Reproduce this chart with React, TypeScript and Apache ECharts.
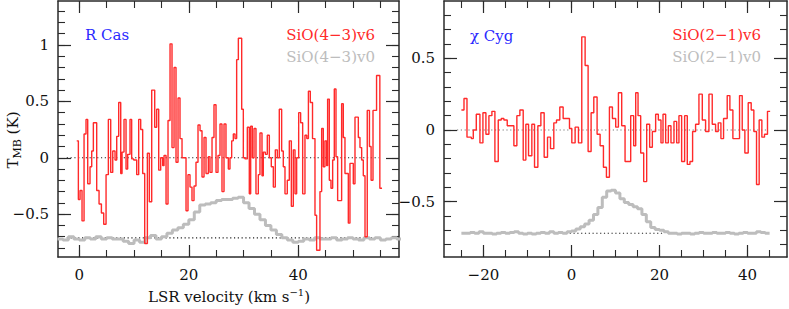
import React, { useEffect, useRef } from "react";
import * as echarts from "echarts";

// ---------------- R Cas: SiO(4-3) v=6 (channel left edges in km/s, T_MB in K)
const rcasV6Vel = [
  -0.48, -0.18, 0.13, 0.49, 0.86, 1.22, 1.53, 1.95, 2.26, 2.56, 3.17, 3.6, 4.03, 4.45, 4.88, 5.3, 5.73, 6.1, 6.52, 6.83,
  7.19, 7.56, 7.8, 8.16, 8.53, 8.83, 9.26, 9.56, 9.93, 10.48, 10.84, 11.21, 11.57, 11.94, 12.43, 12.79, 13.22, 13.77, 14.13, 14.5,
  14.86, 15.23, 15.47, 15.84, 16.2, 16.57, 16.93, 17.3, 17.66, 18.03, 18.39, 18.76, 19.49, 19.85, 20.22, 20.58, 20.95, 21.31, 21.68, 22.05,
  22.41, 22.78, 23.14, 23.57, 23.87, 24.24, 24.6, 24.97, 25.33, 25.7, 26.06, 26.43, 26.79, 27.22, 27.52, 27.83, 28.13, 28.44, 28.74, 29.05,
  29.66, 29.96, 30.26, 30.69, 31.05, 31.3, 31.6, 31.91, 32.27, 32.7, 33.0, 33.37, 33.61, 33.98, 34.34, 34.71, 35.07, 35.44, 35.8, 36.17,
  36.53, 36.96, 37.26, 37.57, 37.99, 38.36, 38.73, 39.09, 39.4, 39.7, 40.07, 40.43, 40.8, 41.22, 41.55, 41.85, 42.2, 42.6, 43.05, 43.35,
  43.96, 44.27, 44.57, 44.87, 45.18, 45.36, 45.67, 45.97, 46.28, 46.58, 46.89, 47.19, 47.92, 48.22, 48.53, 49.14, 49.44, 50.05, 50.36, 50.97,
  51.27, 51.58, 51.88, 52.19, 52.6, 53.0, 53.3, 53.65, 54.3, 54.9,
];
const rcasV6T = [
  0.15, -0.37, -0.29, -0.56, 0.21, 0.34, -0.23, -0.08, 0.06, 0.31, -0.29, -0.41, -0.49, -0.59, -0.15, 0.34, -0.13, 0.06, -0.02, 0.19,
  0.49, -0.14, 0.05, 0.34, -0.1, 0.03, 0.34, -0.01, -0.02, -0.15, 0.34, 0.25, -0.14, -0.76, 0.04, -0.39, 0.6, 0.27, 0.43, -0.11,
  0.0, -0.07, 0.02, -0.41, 0.33, 1.01, 0.09, 0.8, -0.04, 0.53, 0.17, 0.0, -0.47, -0.15, -0.26, -0.38, -0.25, -0.04, 0.29, 0.24,
  -0.17, 0.18, -0.14, 0.01, -0.13, 0.18, 0.47, -0.13, 0.02, 0.3, -0.3, 0.3, 0.0, -0.1, 0.0, 0.15, 0.21, 0.17, 0.87, 1.06,
  0.43, 0.0, -0.01, 0.27, -0.32, 0.28, 0.0, 0.26, -0.32, -0.15, 0.22, -0.16, 0.05, 0.03, 0.2, 0.0, -0.08, -0.26, 0.07, 0.0,
  0.43, 0.06, -0.08, -0.32, -0.2, 0.15, -0.43, 0.07, -0.32, 0.0, 0.4, 0.31, -0.32, 0.2, 0.17, 0.59, 0.49, 0.17, -0.51, -0.82,
  -0.3, 0.26, -0.08, 0.15, -0.07, 0.52, -0.2, -0.27, -0.02, 0.61, 0.01, -0.38, 0.48, 0.18, -0.14, -0.58, -0.05, -0.23, 0.36, 0.18,
  0.09, -0.02, -0.16, -0.7, 0.42, 0.1, -0.2, 0.42, 0.73, -0.27,
];
const rcasV6End = 55.3;

// R Cas: SiO(4-3) v=0 (scaled, offset), channels of 1 km/s from -4 km/s
const rcasV0Start = -4;
const rcasV0Width = 1;
const rcasV0T = [
  -0.72, -0.73, -0.7, -0.72, -0.73, -0.71, -0.72, -0.7, -0.72, -0.71, -0.72, -0.72, -0.74, -0.76, -0.73, -0.75, -0.71, -0.69, -0.72, -0.7,
  -0.67, -0.64, -0.62, -0.59, -0.55, -0.48, -0.42, -0.41, -0.4, -0.38, -0.37, -0.37, -0.36, -0.35, -0.4, -0.45, -0.5, -0.55, -0.6, -0.64,
  -0.68, -0.71, -0.73, -0.75, -0.74, -0.72, -0.73, -0.71, -0.72, -0.72, -0.71, -0.73, -0.72, -0.71, -0.72, -0.73, -0.71, -0.72, -0.71, -0.73,
  -0.72, -0.71, -0.72,
];

// ---------------- chi Cyg: SiO(2-1) v=6
const cygV6Vel = [
  -25.0, -24.41, -23.73, -22.75, -22.3, -21.62, -20.79, -20.11, -19.43, -18.75, -18.07, -17.39, -16.63, -15.95, -15.35, -14.59, -13.08, -12.4, -11.72, -10.96,
  -10.36, -9.75, -9.0, -8.39, -7.63, -6.95, -6.2, -5.44, -4.76, -4.01, -3.4, -2.65, -1.89, -0.45, 0.08, 0.83, 1.59, 2.34, 3.1, 3.78,
  4.46, 5.07, 5.82, 6.51, 7.26, 7.94, 8.62, 9.3, 10.05, 10.66, 11.41, 12.17, 13.45, 14.13, 14.59, 15.12, 15.72, 16.4, 17.08, 17.76,
  18.37, 19.12, 19.73, 20.33, 20.79, 21.39, 22.0, 22.6, 23.28, 23.89, 24.41, 25.02, 25.7, 26.3, 26.91, 27.51, 28.19, 28.95, 29.71, 30.46,
  31.22, 31.97, 32.73, 33.33, 33.94, 34.54, 35.37, 35.98, 36.66, 38.17, 38.78, 39.38, 40.14, 40.82, 41.42, 42.03, 42.63, 43.24, 43.84, 44.52,
];
const cygV6T = [
  0.14, 0.22, -0.05, -0.06, 0.0, 0.11, -0.09, 0.12, -0.03, 0.1, 0.13, -0.22, 0.07, 0.08, 0.07, 0.03, -0.11, 0.1, 0.14, -0.21,
  0.04, -0.18, 0.04, -0.26, 0.03, 0.12, -0.19, -0.05, -0.13, 0.05, 0.07, 0.16, 0.08, 0.01, -0.09, 0.02, -0.09, 0.65, 0.45, -0.15,
  0.12, 0.23, -0.03, -0.11, -0.26, -0.33, 0.16, 0.08, 0.02, 0.26, 0.03, -0.22, 0.1, -0.11, 0.26, 0.1, -0.16, -0.36, 0.04, -0.12,
  -0.01, 0.11, 0.07, -0.09, 0.11, -0.09, 0.03, -0.09, 0.06, -0.09, 0.1, -0.22, 0.1, -0.24, -0.22, -0.01, 0.04, 0.25, 0.07, -0.01,
  0.25, 0.04, -0.01, 0.05, -0.06, 0.08, 0.24, 0.14, -0.06, 0.24, 0.0, -0.16, 0.19, 0.14, -0.01, -0.38, 0.07, -0.05, -0.03, 0.13,
];
const cygV6End = 45.12;

// chi Cyg: SiO(2-1) v=0 (scaled, offset), channels of 1 km/s from -25 km/s
const cygV0Start = -25;
const cygV0Width = 1;
const cygV0T = [
  -0.72, -0.72, -0.715, -0.72, -0.71, -0.72, -0.72, -0.725, -0.72, -0.715, -0.72, -0.715, -0.71, -0.72, -0.725, -0.72, -0.725, -0.72, -0.715, -0.72,
  -0.71, -0.72, -0.715, -0.72, -0.71, -0.705, -0.69, -0.675, -0.655, -0.63, -0.59, -0.54, -0.47, -0.425, -0.42, -0.44, -0.48, -0.505, -0.52, -0.535,
  -0.55, -0.59, -0.64, -0.68, -0.695, -0.7, -0.71, -0.72, -0.72, -0.725, -0.72, -0.72, -0.725, -0.72, -0.715, -0.72, -0.72, -0.715, -0.72, -0.72,
  -0.715, -0.72, -0.725, -0.72, -0.715, -0.72, -0.72, -0.71, -0.715, -0.72,
];

// reference (dotted) lines: [x0, x1, y]
const rcasZeroLine = [-2.3, 54.7, 0];
const rcasV0Base = [-2.3, 55.0, -0.71];
const cygZeroLine = [-26, 44.4, 0];
const cygV0Base = [-0.4, 20.8, -0.72];

// axis ticks / labels
const rcasXLabels = [0, 20, 40];
const cygXLabels = [-20, 0, 20, 40];
const rcasYLabels = [-0.5, 0, 0.5, 1];
const cygYLabels = [-0.5, 0, 0.5];

const FAMILY = "'DejaVu Serif', 'Liberation Serif', serif";
const RED = "#ff2a2a";
const GRAY = "#bdbdbd";
const BLUE = "#2a2aff";
const FRAME = "#2a2a2a";

function steps(vel: number[], vals: number[], end: number) {
  const pts: number[][] = [];
  for (let i = 0; i < vals.length; i++) {
    const x0 = vel[i];
    const x1 = i + 1 < vel.length ? vel[i + 1] : end;
    pts.push([x0, vals[i]], [x1, vals[i]]);
  }
  return pts;
}
function uniformSteps(start: number, width: number, vals: number[]) {
  const vel = vals.map((_, i) => start + i * width);
  return steps(vel, vals, start + vals.length * width);
}
function range(a: number, b: number, s: number) {
  const out: number[] = [];
  for (let v = a; v <= b + 1e-9; v += s) out.push(Math.round(v * 1000) / 1000);
  return out;
}
const fmt = (v: number) => {
  const s = String(Math.round(v * 1000) / 1000);
  return s.replace("-", "\u2212");
};

function axes(kind: "x" | "y", grid: number, min: number, max: number, majors: number[], minors: number[], labels: number[]) {
  const pos = kind === "x" ? ["bottom", "top"] : ["left", "right"];
  const majorLen = kind === "x" ? 12 : 13;
  const minorLen = 7;
  const line = { color: FRAME, width: 1.5 };
  const out: any[] = [];
  pos.forEach((p, k) => {
    out.push({
      type: "value",
      gridIndex: grid,
      position: p,
      min,
      max,
      axisLine: { show: true, onZero: false, lineStyle: line },
      axisTick: { show: true, inside: true, length: majorLen, customValues: majors, lineStyle: { color: FRAME, width: 1.2 } },
      axisLabel: {
        show: k === 0,
        customValues: labels,
        formatter: fmt,
        margin: kind === "x" ? 10 : 9,
        color: "#111",
        fontFamily: FAMILY,
        fontSize: 15,
      },
      splitLine: { show: false },
      minorTick: { show: false },
    });
    out.push({
      type: "value",
      gridIndex: grid,
      position: p,
      min,
      max,
      axisLine: { show: false, onZero: false },
      axisTick: { show: true, inside: true, length: minorLen, customValues: minors, lineStyle: { color: FRAME, width: 1.1 } },
      axisLabel: { show: false },
      splitLine: { show: false },
    });
  });
  return out;
}

export default function App() {
  const ref = useRef<HTMLDivElement>(null);
  useEffect(() => {
    if (!ref.current) return;
    document.body.style.margin = "0";
    const chart = echarts.init(ref.current, undefined, { renderer: "svg" });

    const xAxis = [
      ...axes("x", 0, -3.9, 58.4, range(0, 40, 20), range(0, 55, 5), rcasXLabels),
      ...axes("x", 1, -28.95, 48.95, range(-20, 40, 20), range(-25, 45, 5), cygXLabels),
    ];
    const yAxis = [
      ...axes("y", 0, -0.88, 1.39, range(-0.5, 1, 0.5), range(-0.8, 1.3, 0.1), rcasYLabels),
      ...axes("y", 1, -0.886, 0.9, range(-0.5, 0.5, 0.5), range(-0.8, 0.8, 0.1), cygYLabels),
    ];

    const dotted = (l: number[], xi: number, yi: number, color: string) => ({
      type: "line",
      xAxisIndex: xi,
      yAxisIndex: yi,
      data: [[l[0], l[2]], [l[1], l[2]]],
      symbol: "none",
      silent: true,
      lineStyle: { color, width: 1.1, type: [1.2, 2.6] },
      z: 1,
    });
    const stepSeries = (data: number[][], xi: number, yi: number, color: string, width: number, z: number) => ({
      type: "line",
      xAxisIndex: xi,
      yAxisIndex: yi,
      data,
      symbol: "none",
      silent: true,
      lineStyle: { color, width },
      z,
    });

    const txt = (x: number, y: number, text: string, fill: string, align: string, extra: any = {}) => ({
      type: "text",
      x,
      y,
      silent: true,
      ...extra,
      style: {
        text,
        fill,
        font: "15px " + FAMILY,
        fontFamily: FAMILY,
        fontSize: 15,
        align,
        verticalAlign: "middle",
        textAlign: align,
        textVerticalAlign: "middle",
        ...(extra.style || {}),
      },
    });

    chart.setOption({
      animation: false,
      backgroundColor: "#ffffff",
      grid: [
        { left: 58, top: 1, width: 341, height: 256 },
        { left: 444, top: 1, width: 343, height: 256 },
      ],
      xAxis,
      yAxis,
      series: [
        dotted(rcasZeroLine, 0, 0, "#222"),
        dotted(rcasV0Base, 0, 0, "#222"),
        dotted(cygZeroLine, 4, 4, "#777"),
        dotted(cygV0Base, 4, 4, "#222"),
        stepSeries(uniformSteps(rcasV0Start, rcasV0Width, rcasV0T), 0, 0, GRAY, 3, 2),
        stepSeries(steps(rcasV6Vel, rcasV6T, rcasV6End), 0, 0, RED, 1.4, 3),
        stepSeries(uniformSteps(cygV0Start, cygV0Width, cygV0T), 4, 4, GRAY, 3, 2),
        stepSeries(steps(cygV6Vel, cygV6T, cygV6End), 4, 4, RED, 1.4, 3),
      ],
      graphic: [
        txt(85, 35, "R Cas", BLUE, "left"),
        txt(375, 35, "SiO(4\u22123)v6", RED, "right"),
        txt(375, 57, "SiO(4\u22123)v0", GRAY, "right"),
        txt(470, 36, "\u03c7 Cyg", BLUE, "left"),
        txt(761, 35, "SiO(2\u22121)v6", RED, "right"),
        txt(761, 57, "SiO(2\u22121)v0", GRAY, "right"),
        txt(229, 297, "LSR velocity (km s{sup|\u22121})", "#111", "center", {
          style: { rich: { sup: { fontSize: 10, fontFamily: FAMILY, fill: "#111", padding: [0, 0, 9, 0] } } },
        }),
        txt(13, 140, "T{sub|MB} (K)", "#111", "center", {
          rotation: Math.PI / 2,
          style: { rich: { sub: { fontSize: 11, fontFamily: FAMILY, fill: "#111", padding: [9, 0, 0, 0] } } },
        }),
      ],
    });
    return () => chart.dispose();
  }, []);
  return <div ref={ref} style={{ width: 789, height: 309 }} />;
}
